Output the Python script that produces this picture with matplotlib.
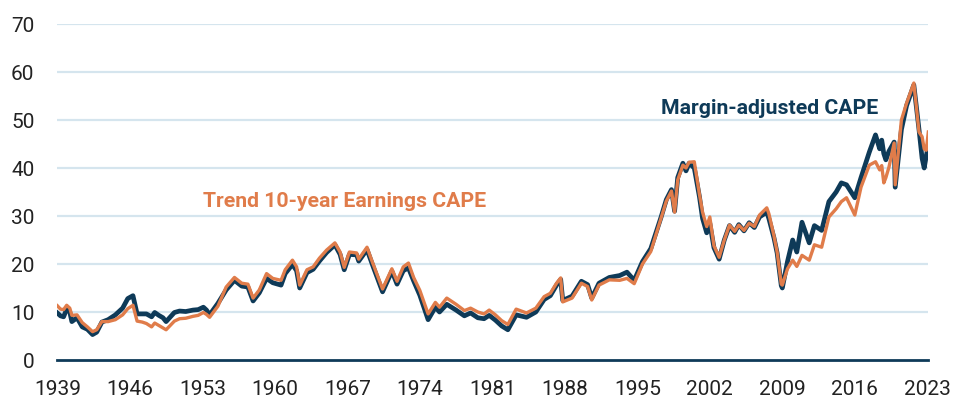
import matplotlib
matplotlib.use("Agg")
import matplotlib.pyplot as plt

# ==============================================================================
# 1. DATA
# ==============================================================================
years = [
    1939.0, 1939.3, 1939.6, 1939.9, 1940.2, 1940.4, 1940.9, 1941.4, 1941.9, 1942.4,
    1942.8, 1943.3, 1943.9, 1944.6, 1945.3, 1945.8, 1946.3, 1946.7, 1947.2, 1947.6,
    1948.1, 1948.4, 1948.8, 1949.2, 1949.5, 1950.3, 1950.8, 1951.4, 1952.1, 1952.6,
    1953.1, 1953.4, 1953.7, 1954.5, 1955.3, 1956.1, 1956.8, 1957.4, 1957.9, 1958.5,
    1959.2, 1959.8, 1960.6, 1961.0, 1961.7, 1962.1, 1962.4, 1963.1, 1963.7, 1964.3,
    1965.0, 1965.8, 1966.3, 1966.7, 1967.2, 1967.9, 1968.1, 1968.9, 1969.4, 1970.4,
    1971.3, 1971.8, 1972.4, 1972.9, 1973.4, 1974.0, 1974.8, 1975.5, 1975.9, 1976.6,
    1977.5, 1978.3, 1978.9, 1979.6, 1980.2, 1980.7, 1981.3, 1981.9, 1982.5, 1983.3,
    1984.3, 1985.2, 1986.0, 1986.6, 1987.2, 1987.6, 1987.8, 1988.7, 1989.6, 1990.2,
    1990.6, 1991.3, 1992.3, 1993.3, 1994.0, 1994.7, 1995.5, 1996.3, 1996.9, 1997.3,
    1997.8, 1998.3, 1998.6, 1998.9, 1999.4, 1999.7, 2000.0, 2000.5, 2001.0, 2001.3,
    2001.7, 2002.0, 2002.4, 2002.9, 2003.4, 2003.9, 2004.4, 2004.8, 2005.3, 2005.8,
    2006.3, 2006.8, 2007.5, 2007.7, 2008.2, 2008.5, 2008.9, 2009.0, 2009.5, 2010.0,
    2010.4, 2010.9, 2011.6, 2012.1, 2012.8, 2013.5, 2014.2, 2014.7, 2015.2, 2016.0,
    2016.6, 2017.4, 2018.0, 2018.4, 2018.6, 2018.8, 2019.0, 2019.3, 2019.8, 2019.9,
    2020.5, 2021.0, 2021.7, 2022.2, 2022.5, 2022.7, 2022.9, 2023.1,
]

margin_adjusted = [
    9.8, 9.2, 9.0, 10.6, 10.0, 8.0, 8.8, 6.9, 6.4, 5.3,
    5.8, 7.9, 8.4, 9.4, 10.8, 12.8, 13.4, 9.6, 9.6, 9.6,
    9.0, 9.9, 9.3, 8.8, 8.0, 9.9, 10.2, 10.1, 10.4, 10.5,
    11.0, 10.4, 9.4, 11.8, 14.6, 16.6, 15.4, 15.2, 12.3, 14.0,
    17.0, 16.1, 15.6, 18.0, 19.9, 18.6, 15.0, 18.2, 18.9, 20.6,
    22.4, 24.0, 22.0, 18.8, 22.0, 21.9, 20.6, 23.0, 20.0, 14.2,
    18.5, 15.8, 18.6, 19.2, 16.5, 13.5, 8.4, 11.0, 10.0, 11.6,
    10.4, 9.2, 9.8, 8.8, 8.6, 9.3, 8.3, 7.1, 6.3, 9.4,
    8.9, 10.0, 12.6, 13.4, 15.6, 16.8, 12.4, 13.3, 16.4, 15.7,
    12.9, 16.0, 17.2, 17.6, 18.3, 16.6, 20.5, 23.2, 27.2, 29.8,
    33.4, 35.5, 31.0, 38.0, 41.0, 39.4, 41.0, 40.0, 34.0, 29.5,
    26.5, 28.5, 23.4, 21.0, 25.0, 28.0, 26.6, 28.2, 26.9, 28.6,
    27.6, 29.8, 30.8, 29.5, 25.4, 22.3, 15.5, 15.0, 20.5, 25.0,
    22.5, 28.7, 24.4, 28.0, 27.0, 33.0, 35.0, 36.9, 36.5, 33.8,
    38.0, 43.3, 46.9, 44.0, 45.8, 43.0, 41.7, 43.5, 45.4, 36.0,
    48.0, 53.0, 57.3, 48.0, 42.0, 40.0, 42.5, 44.8,
]

trend_earnings = [
    11.3, 10.6, 10.5, 11.4, 10.8, 9.3, 9.4, 7.8, 6.9, 5.9,
    6.3, 8.0, 8.0, 8.4, 9.4, 10.7, 11.4, 8.1, 7.9, 7.6,
    6.9, 7.7, 7.2, 6.7, 6.3, 8.1, 8.6, 8.7, 9.1, 9.3,
    9.9, 9.5, 8.9, 11.2, 15.2, 17.2, 16.0, 15.8, 12.9, 14.6,
    18.0, 17.0, 16.6, 18.8, 20.8, 19.4, 15.6, 18.8, 19.4, 21.2,
    22.9, 24.4, 22.5, 19.3, 22.5, 22.3, 21.0, 23.5, 20.5, 14.8,
    19.0, 16.4, 19.4, 20.2, 17.2, 14.5, 9.6, 12.0, 11.0, 12.9,
    11.6, 10.3, 10.8, 10.0, 9.6, 10.4, 9.4, 8.2, 7.4, 10.6,
    9.8, 10.8, 13.2, 13.9, 16.0, 17.1, 12.1, 12.9, 16.0, 15.3,
    12.5, 15.6, 16.7, 16.6, 17.0, 15.9, 20.0, 22.6, 26.8, 29.6,
    33.1, 35.2, 30.8, 37.5, 40.6, 40.0, 41.2, 41.3, 34.5, 30.8,
    27.8, 29.8, 23.8, 21.4, 25.0, 28.1, 26.8, 28.1, 27.0, 28.5,
    27.8, 30.2, 31.7, 30.5, 25.8, 22.5, 15.8, 15.6, 19.0, 20.8,
    19.5, 21.8, 20.8, 24.0, 23.5, 29.8, 31.5, 33.0, 33.8, 30.2,
    36.0, 40.6, 41.3, 39.6, 40.5, 36.9, 38.0, 40.2, 45.2, 36.5,
    50.0, 53.5, 57.7, 47.5, 46.5, 44.0, 43.7, 47.5,
]

x_ticks = [1939, 1946, 1953, 1960, 1967, 1974, 1981, 1988, 1995, 2002, 2009, 2016, 2023]
y_ticks = [0, 10, 20, 30, 40, 50, 60, 70]

navy = "#0e3a58"
orange = "#e07c4a"
grid_blue = "#d5e5ee"

# ==============================================================================
# 2. PLOT
# ==============================================================================
plt.rcParams["font.family"] = ["Roboto", "DejaVu Sans"]

fig = plt.figure(figsize=(9.64, 4.0), dpi=100)
ax = fig.add_axes([0.0595, 0.10, 0.9035, 0.84])

ax.plot(years, margin_adjusted, color=navy, linewidth=3.4, solid_joinstyle="round", zorder=3)
ax.plot(years, trend_earnings, color=orange, linewidth=2.4, solid_joinstyle="round", zorder=4)

ax.set_xlim(1939, 2023.1)
ax.set_ylim(0, 70)
ax.set_xticks(x_ticks)
ax.set_yticks(y_ticks)
ax.tick_params(axis="both", length=0, labelsize=15, labelcolor="#222222")
ax.tick_params(axis="y", pad=16.5)
ax.tick_params(axis="x", pad=14.5)

# light horizontal grid, navy zero line
for v in y_ticks[1:]:
    ax.axhline(v, color=grid_blue, linewidth=1.6, zorder=1)
for side in ["top", "right", "left"]:
    ax.spines[side].set_visible(False)
ax.spines["bottom"].set_color(navy)
ax.spines["bottom"].set_linewidth(2)
ax.spines["bottom"].set_zorder(2)

# series labels
ax.text(1953.1, 33.0, "Trend 10-year Earnings CAPE", color=orange, fontsize=15.3,
        fontweight="bold", va="center", ha="left")
ax.text(1997.3, 52.5, "Margin-adjusted CAPE", color=navy, fontsize=15.3,
        fontweight="bold", va="center", ha="left")

fig.savefig("out.png", dpi=100)
